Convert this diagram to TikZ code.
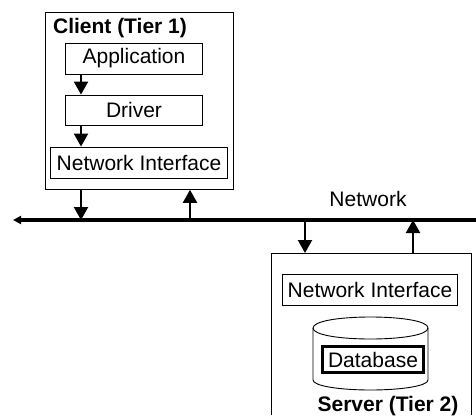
\documentclass[tikz,border=0pt]{standalone}
\usepackage{fontspec}
\setmainfont{Liberation Sans}
\usetikzlibrary{arrows.meta}
\tikzset{
  tier/.style={draw=black,line width=0.8pt,fill=white,inner sep=0pt,anchor=north west},
  layerbox/.style={draw=black,line width=0.9pt,fill=white,inner sep=0pt,font=\fontsize{21pt}{24pt}\selectfont},
  tierlabel/.style={inner sep=0pt,font=\bfseries\fontsize{21pt}{24pt}\selectfont},
  plainlabel/.style={inner sep=0pt,font=\fontsize{21pt}{24pt}\selectfont},
  flow/.style={line width=2.2pt,-{Triangle[length=13pt,width=14pt]}},
  bus/.style={line width=3.2pt,-{Triangle[length=8pt,width=8pt]}}
}
\begin{document}
\begin{tikzpicture}[x=1pt,y=-1pt]
\useasboundingbox (0,0) rectangle (476,415);
% tier boxes
\node[tier,minimum width=188.5pt,minimum height=177pt] (client) at (44.5,12) {};
\draw[line width=0.8pt] (271,415) -- (271,253) -- (471,253) -- (471,415);
\coordinate (srvtopa) at (305,253);
\coordinate (srvtopb) at (413,253);
\node[tierlabel] (clientlabel) at (120,28) {Client (Tier 1)};
\node[layerbox,minimum width=136.5pt,minimum height=31pt] (app) at (134,58.5) {Application};
\node[layerbox,minimum width=136.5pt,minimum height=30pt] (drv) at (134,110) {Driver};
\node[layerbox,minimum width=177pt,minimum height=31pt] (nic) at (139,162.5) {Network Interface};
% network
\coordinate (netR) at (476,220);
\coordinate (netL) at (13,220);
\draw[bus] (netR) -- (netL);
\node[plainlabel] (netlabel) at (368,199) {Network};
% server contents
\node[layerbox,minimum width=174.5pt,minimum height=30.5pt] (snic) at (370,290) {Network Interface};
\draw[line width=0.9pt,fill=white] (313,328)
  .. controls (313,321) and (340,317) .. (370.5,317)
  .. controls (401,317) and (428,321) .. (428,328)
  -- (428,380)
  .. controls (428,386) and (401,390) .. (370.5,390)
  .. controls (340,390) and (313,386) .. (313,380) -- cycle;
\draw[line width=0.9pt] (313,328)
  .. controls (313,335) and (340,339) .. (370.5,339)
  .. controls (401,339) and (428,335) .. (428,328);
\node[layerbox,line width=2.6pt,minimum width=101pt,minimum height=26pt] (dbase) at (373,359.5) {Database};
\node[tierlabel] (serverlabel) at (388,406) {Server (Tier 2)};
% connectors
\coordinate (x1) at (81,0);
\coordinate (x2) at (190,0);
\draw[flow] (app.south -| x1) -- (drv.north -| x1);
\draw[flow] (drv.south -| x1) -- (nic.north -| x1);
\draw[flow] (client.south -| x1) -- (netL -| x1);
\draw[flow] (netL -| x2) -- (client.south -| x2);
\draw[flow] (netL -| srvtopa) -- (srvtopa);
\draw[flow] (srvtopb) -- (netL -| srvtopb);
\end{tikzpicture}
\end{document}
